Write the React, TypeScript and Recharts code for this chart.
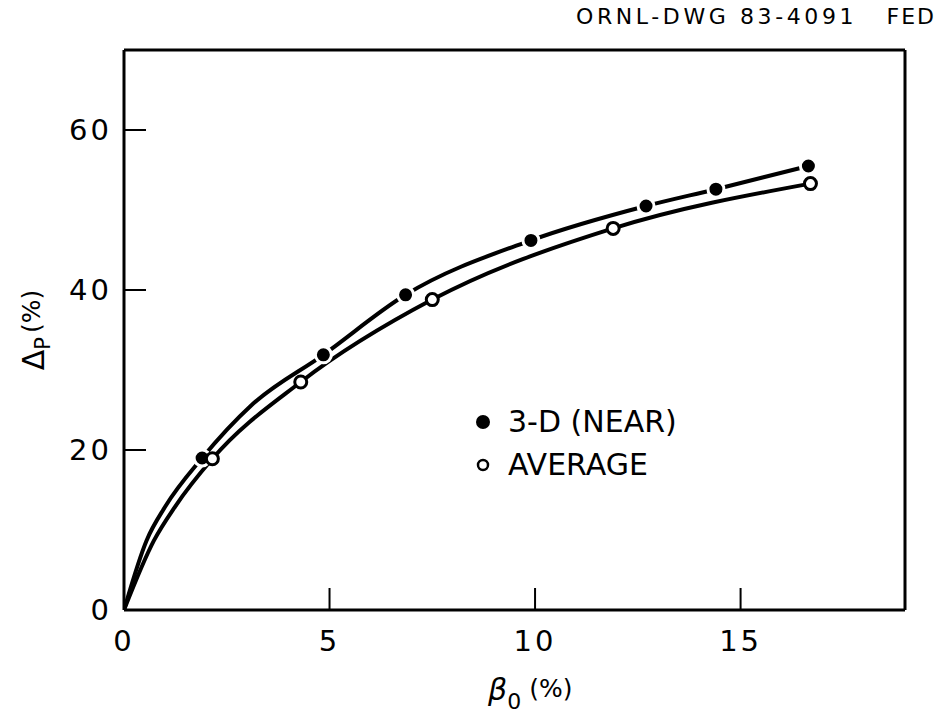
import { ComposedChart, Line, XAxis, YAxis, Legend } from "recharts"

// beta_0 (%) vs Delta_P (%)
const nearBeta = [1.9, 4.85, 6.85, 9.9, 12.7, 14.4, 16.65]
const nearDelta = [19.0, 31.9, 39.4, 46.2, 50.5, 52.6, 55.5]
const avgBeta = [2.15, 4.3, 7.5, 11.9, 16.7]
const avgDelta = [18.9, 28.5, 38.8, 47.7, 53.3]

// extra points (no marker there)
const nearTraceBeta = [0, 0.55, 1.0, 3.1]
const nearTraceDelta = [0, 8.7, 12.9, 25.6]
const avgTraceBeta = [0, 0.73, 1.24]
const avgTraceDelta = [0, 8.7, 12.9]

const xTicks = [0, 5, 10, 15]
const yTicks = [0, 20, 40, 60]
const innerXTicks = [5, 10, 15]
const innerYTicks = [20, 40, 60]

const byX = (a: { x: number }, b: { x: number }) => a.x - b.x

const nearCurve = [
  ...nearTraceBeta.map((x, i) => ({ x, y: nearTraceDelta[i], mark: false })),
  ...nearBeta.map((x, i) => ({ x, y: nearDelta[i], mark: true })),
].sort(byX)
const avgCurve = [
  ...avgTraceBeta.map((x, i) => ({ x, y: avgTraceDelta[i], mark: false })),
  ...avgBeta.map((x, i) => ({ x, y: avgDelta[i], mark: true })),
].sort(byX)

const FONT = "'DejaVu Sans', sans-serif"

const tickStyle = { fontSize: 29, fill: "#000", fontFamily: FONT, letterSpacing: 3 }

const FilledDot = (props: any) => {
  const { cx, cy, index, payload } = props
  if (!payload?.mark) return <g key={`n-${index}`} />
  return (
    <circle
      key={`n-${index}`}
      cx={cx}
      cy={cy}
      r={8}
      fill="#000"
      stroke="#fff"
      strokeWidth={3}
    />
  )
}

const OpenDot = (props: any) => {
  const { cx, cy, index, payload } = props
  if (!payload?.mark) return <g key={`a-${index}`} />
  return (
    <circle
      key={`a-${index}`}
      cx={cx}
      cy={cy}
      r={6}
      fill="#fff"
      stroke="#000"
      strokeWidth={3}
    />
  )
}

const renderLegend = () => (
  <div style={{ fontFamily: FONT, fontSize: 30, color: "#000", lineHeight: "43px" }}>
    <div style={{ display: "flex", alignItems: "center" }}>
      <svg width={40} height={20}>
        <circle cx={15} cy={10} r={7} fill="#000" />
      </svg>
      <span>3-D (NEAR)</span>
    </div>
    <div style={{ display: "flex", alignItems: "center" }}>
      <svg width={40} height={20}>
        <circle cx={15} cy={10} r={5} fill="#fff" stroke="#000" strokeWidth={2.5} />
      </svg>
      <span>AVERAGE</span>
    </div>
  </div>
)

const XTitle = () => (
  <text x={488} y={700} fontFamily={FONT} fontSize={30} fill="#000" fontStyle="italic">
    β
    <tspan fontSize={22} dy={9} fontStyle="normal">0</tspan>
    <tspan fontSize={25} dy={-12} fontStyle="normal" dx={8}>(%)</tspan>
  </text>
)

const YTitle = () => (
  <text
    x={44}
    y={330}
    transform="rotate(-90, 44, 330)"
    textAnchor="middle"
    fontFamily={FONT}
    fontSize={30}
    fill="#000"
  >
    Δ
    <tspan fontSize={21} dy={6}>P</tspan>
    <tspan fontSize={25} dy={-10} dx={4}>(%)</tspan>
  </text>
)

export default function App() {
  return (
    <div style={{ position: "absolute", left: 0, top: 0, width: 941, height: 726, background: "#fff" }}>
      <div
        style={{
          position: "absolute",
          left: 576,
          top: 4,
          width: 360,
          fontFamily: FONT,
          fontSize: 22,
          letterSpacing: 3.6,
          color: "#000",
          display: "flex",
          justifyContent: "space-between",
        }}
      >
        <span>ORNL-DWG 83-4091</span>
        <span style={{ letterSpacing: 2 }}>FED</span>
      </div>
      <ComposedChart
        width={941}
        height={726}
        margin={{ top: 49, right: 35, left: 0, bottom: 0 }}
      >
        <XAxis
          type="number"
          dataKey="x"
          domain={[0, 19]}
          ticks={xTicks}
          allowDataOverflow
          height={116}
          axisLine={{ stroke: "#000", strokeWidth: 3 }}
          tickLine={{ stroke: "#000", strokeWidth: 2 }}
          tickSize={-22}
          tickMargin={42}
          tick={tickStyle}
          label={<XTitle />}
        />
        <XAxis
          xAxisId="top"
          orientation="top"
          type="number"
          dataKey="x"
          domain={[0, 19]}
          ticks={innerXTicks}
          allowDataOverflow
          height={1}
          axisLine={{ stroke: "#000", strokeWidth: 3 }}
          tickLine={{ stroke: "#000", strokeWidth: 2 }}
          tickSize={-22}
          tick={false}
        />
        <YAxis
          type="number"
          domain={[0, 70]}
          ticks={yTicks}
          allowDataOverflow
          width={124}
          axisLine={{ stroke: "#000", strokeWidth: 3 }}
          tickLine={{ stroke: "#000", strokeWidth: 2 }}
          tickSize={-22}
          tickMargin={34}
          tick={tickStyle}
          label={<YTitle />}
        />
        <YAxis
          yAxisId="right"
          orientation="right"
          type="number"
          domain={[0, 70]}
          ticks={innerYTicks}
          allowDataOverflow
          width={1}
          axisLine={{ stroke: "#000", strokeWidth: 3 }}
          tickLine={{ stroke: "#000", strokeWidth: 2 }}
          tickSize={-22}
          tick={false}
        />
        <Legend
          content={renderLegend}
          layout="horizontal"
          verticalAlign="middle"
          align="center"
          wrapperStyle={{ left: 468, top: 400, width: 320 }}
        />
        <Line
          data={nearCurve}
          dataKey="y"
          name="3-D (NEAR)"
          type="monotone"
          stroke="#000"
          strokeWidth={4}
          dot={FilledDot}
          activeDot={false}
          isAnimationActive={false}
        />
        <Line
          data={avgCurve}
          dataKey="y"
          name="AVERAGE"
          type="monotone"
          stroke="#000"
          strokeWidth={4}
          dot={OpenDot}
          activeDot={false}
          isAnimationActive={false}
        />
      </ComposedChart>
    </div>
  )
}
